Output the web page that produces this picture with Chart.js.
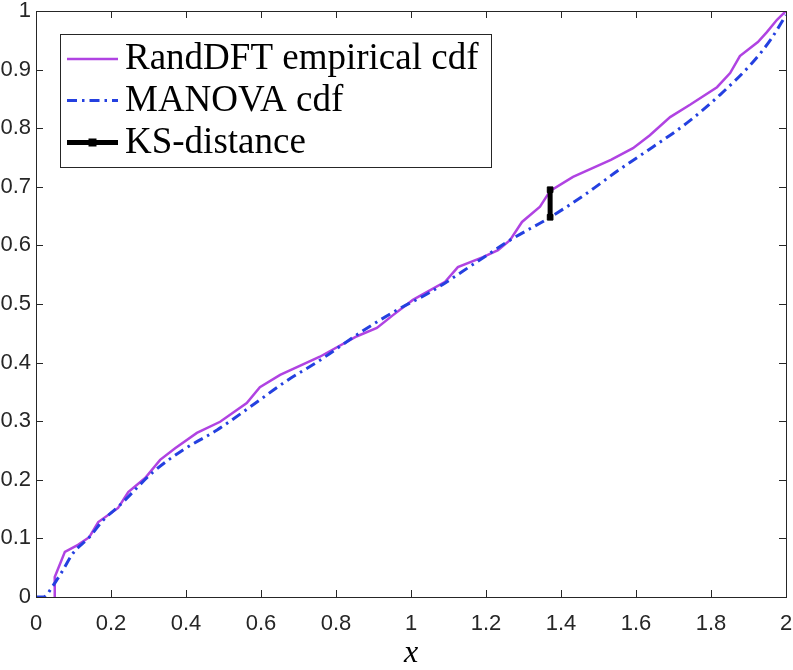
<!DOCTYPE html>
<html>
<head>
<meta charset="utf-8">
<script src="https://cdn.jsdelivr.net/npm/chart.js@4.4.1/dist/chart.umd.min.js"></script>
<style>
  html, body { margin: 0; padding: 0; background: #fff; }
  #wrap { width: 793px; height: 670px; position: relative; }
</style>
</head>
<body>
<div id="wrap"><canvas id="cdfChart"></canvas></div>
<script>
// RandDFT empirical cdf
const randX = [0.05, 0.05, 0.077, 0.112, 0.142, 0.166, 0.219, 0.246, 0.291, 0.331, 0.371, 0.429, 0.491, 0.562, 0.597, 0.651, 0.757, 0.856, 0.909, 0.952, 1.005, 1.091, 1.125, 1.192, 1.232, 1.264, 1.296, 1.344, 1.371, 1.432, 1.533, 1.592, 1.637, 1.691, 1.744, 1.816, 1.851, 1.877, 1.925, 1.949, 1.976, 2.0];
const randY = [0, 0.034, 0.077, 0.089, 0.102, 0.128, 0.152, 0.179, 0.203, 0.234, 0.254, 0.280, 0.299, 0.331, 0.358, 0.379, 0.410, 0.445, 0.459, 0.481, 0.507, 0.538, 0.563, 0.580, 0.592, 0.609, 0.640, 0.666, 0.693, 0.717, 0.746, 0.766, 0.788, 0.819, 0.840, 0.870, 0.894, 0.923, 0.947, 0.964, 0.985, 1.0];

// MANOVA cdf
const manovaX = [0, 0.02, 0.045, 0.072, 0.099, 0.142, 0.179, 0.224, 0.312, 0.392, 0.483, 0.579, 0.664, 0.757, 0.864, 0.963, 1.051, 1.176, 1.264, 1.371, 1.469, 1.557, 1.645, 1.736, 1.824, 1.912, 1.96, 2.0];
const manovaY = [0, 0, 0.019, 0.046, 0.075, 0.102, 0.131, 0.157, 0.213, 0.251, 0.285, 0.328, 0.367, 0.404, 0.451, 0.490, 0.520, 0.572, 0.609, 0.648, 0.689, 0.730, 0.768, 0.809, 0.857, 0.913, 0.952, 0.993];

// KS-distance segment
const ksX = [1.371, 1.371];
const ksY = [0.648, 0.695];

const xTicks = [0, 0.2, 0.4, 0.6, 0.8, 1, 1.2, 1.4, 1.6, 1.8, 2];
const yTicks = [0, 0.1, 0.2, 0.3, 0.4, 0.5, 0.6, 0.7, 0.8, 0.9, 1];

const seriesLabels = ['RandDFT empirical cdf', 'MANOVA cdf', 'KS-distance'];

const axisColor = '#262626';
const purple = '#b043e2';
const blue = '#2440e0';

function toPoints(xs, ys) {
    return xs.map((x, i) => ({ x: x, y: ys[i] }));
}

// box frame + inward ticks on all four sides
const framePlugin = {
    id: 'frame',
    afterDraw(chart) {
        const ctx = chart.ctx;
        const a = chart.chartArea;
        const sx = chart.scales.x, sy = chart.scales.y;
        const tl = 7;
        ctx.save();
        ctx.strokeStyle = axisColor;
        ctx.lineWidth = 1;
        ctx.beginPath();
        xTicks.forEach(v => {
            const px = Math.round(sx.getPixelForValue(v)) + 0.5;
            ctx.moveTo(px, a.bottom); ctx.lineTo(px, a.bottom - tl);
            ctx.moveTo(px, a.top); ctx.lineTo(px, a.top + tl);
        });
        yTicks.forEach(v => {
            const py = Math.round(sy.getPixelForValue(v)) + 0.5;
            ctx.moveTo(a.left, py); ctx.lineTo(a.left + tl, py);
            ctx.moveTo(a.right, py); ctx.lineTo(a.right - tl, py);
        });
        ctx.stroke();
        ctx.strokeRect(Math.round(a.left) + 0.5, Math.round(a.top) + 0.5,
            Math.round(a.right - a.left), Math.round(a.bottom - a.top));
        ctx.restore();
    }
};

// legend box in the upper left, like the MATLAB one
const legendPlugin = {
    id: 'boxLegend',
    afterDraw(chart) {
        const ctx = chart.ctx;
        const a = chart.chartArea;
        const bx = a.left + 24, by = a.top + 23, bw = 431, bh = 133;
        ctx.save();
        ctx.fillStyle = '#fff';
        ctx.fillRect(bx, by, bw, bh);
        ctx.strokeStyle = axisColor;
        ctx.lineWidth = 1;
        ctx.strokeRect(bx + 0.5, by + 0.5, bw, bh);

        const rows = [by + 25, by + 66.5, by + 108.5];
        const x0 = bx + 7, x1 = bx + 58;
        seriesLabels.forEach((label, i) => {
            const ds = chart.data.datasets.find(d => d.label === label);
            const ry = rows[i];
            ctx.strokeStyle = ds.borderColor;
            ctx.lineWidth = ds.borderWidth;
            ctx.setLineDash(ds.borderDash || []);
            ctx.beginPath();
            ctx.moveTo(x0, ry);
            ctx.lineTo(x1, ry);
            ctx.stroke();
            ctx.setLineDash([]);
            if (ds.pointRadius > 0) {
                ctx.fillStyle = ds.pointBackgroundColor;
                const r = ds.pointRadius;
                ctx.fillRect((x0 + x1) / 2 - r, ry - r, 2 * r, 2 * r);
            }
            ctx.fillStyle = '#000';
            ctx.font = '37px "Liberation Serif", "Times New Roman", serif';
            ctx.textBaseline = 'alphabetic';
            ctx.fillText(label, bx + 65, ry + 10);
        });
        ctx.restore();
    }
};

const ctx = document.getElementById('cdfChart').getContext('2d');
const chart = new Chart(ctx, {
    type: 'scatter',
    data: {
        datasets: [
            {
                label: seriesLabels[0],
                data: toPoints(randX, randY),
                showLine: true,
                borderColor: purple,
                borderWidth: 2.5,
                pointRadius: 0,
                tension: 0,
                order: 2
            },
            {
                label: seriesLabels[1],
                data: toPoints(manovaX, manovaY),
                showLine: true,
                borderColor: blue,
                borderWidth: 3,
                borderDash: [10, 5, 2.5, 5],
                pointRadius: 0,
                cubicInterpolationMode: 'monotone',
                order: 1
            },
            {
                label: seriesLabels[2],
                data: toPoints(ksX, ksY),
                showLine: true,
                borderColor: '#000',
                borderWidth: 5,
                pointStyle: 'rect',
                pointRadius: 4,
                pointBackgroundColor: '#000',
                pointBorderColor: '#000',
                pointBorderWidth: 1,
                order: 0
            }
        ]
    },
    options: {
        responsive: true,
        maintainAspectRatio: false,
        animation: false,
        layout: { padding: { left: 0, right: 7, top: 11, bottom: 0 } },
        plugins: {
            legend: { display: false },
            tooltip: { enabled: false }
        },
        scales: {
            x: {
                type: 'linear',
                min: 0,
                max: 2,
                afterBuildTicks: s => { s.ticks = xTicks.map(v => ({ value: v })); },
                afterFit: s => { s.height = 73; s.paddingLeft = 0; s.paddingRight = 0; },
                grid: { display: false, drawTicks: false },
                border: { display: false },
                ticks: {
                    padding: 14,
                    maxRotation: 0,
                    autoSkip: false,
                    color: axisColor,
                    font: { family: '"Liberation Sans", Arial, sans-serif', size: 22 },
                    callback: v => String(+v.toFixed(1))
                },
                title: {
                    display: true,
                    text: 'x',
                    color: '#000',
                    padding: { top: 0, bottom: 0 },
                    font: { family: '"Liberation Serif", "Times New Roman", serif', size: 32, style: 'italic', lineHeight: 1 }
                }
            },
            y: {
                type: 'linear',
                min: 0,
                max: 1,
                afterBuildTicks: s => { s.ticks = yTicks.map(v => ({ value: v })); },
                afterFit: s => { s.width = 36; s.paddingTop = 0; s.paddingBottom = 0; },
                grid: { display: false, drawTicks: false },
                border: { display: false },
                ticks: {
                    padding: 5,
                    autoSkip: false,
                    color: axisColor,
                    font: { family: '"Liberation Sans", Arial, sans-serif', size: 22 },
                    callback: v => String(+v.toFixed(1))
                }
            }
        }
    },
    plugins: [framePlugin, legendPlugin]
});
</script>
</body>
</html>
